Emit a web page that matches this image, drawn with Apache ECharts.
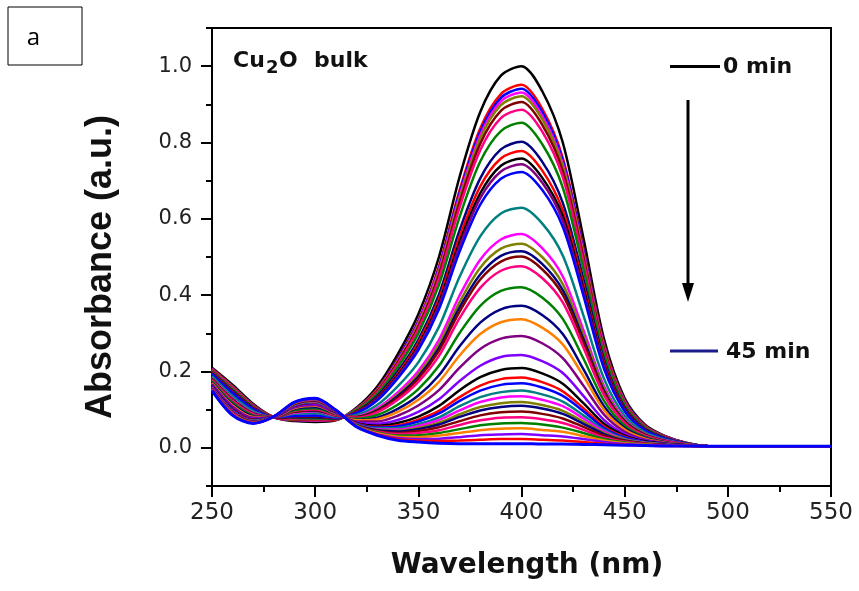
<!DOCTYPE html>
<html>
<head>
<meta charset="utf-8">
<script src="https://cdn.jsdelivr.net/npm/echarts@6/dist/echarts.min.js"></script>
<style>
  html, body { margin: 0; padding: 0; background: #fff; }
  #chart { width: 859px; height: 591px; }
</style>
</head>
<body>
<div id="chart"></div>
<script>
// Wavelength grid (nm)
const wavelengths = [250, 260, 270, 280, 290, 300, 310, 320, 330, 340, 350, 360, 370, 380, 390, 400, 410, 420, 430, 440, 450, 460, 470, 480, 490, 550];

// Absorbance spectra, 0 min (top) to 45 min (bottom)
const absorbance = [
    [.210,.165,.115,.080,.070,.068,.072,.105,.160,.245,.350,.500,.710,.880,.975,1.000,.935,.800,.550,.285,.130,.060,.030,.013,.005,.004],
    [.207,.161,.112,.080,.072,.071,.073,.102,.154,.234,.333,.476,.675,.837,.927,.951,.889,.760,.523,.271,.124,.057,.029,.013,.005,.004],
    [.206,.160,.112,.080,.073,.072,.074,.102,.152,.232,.330,.471,.668,.828,.917,.941,.880,.753,.518,.268,.123,.057,.029,.013,.005,.004],
    [.206,.159,.111,.080,.074,.072,.074,.102,.151,.229,.327,.466,.661,.819,.908,.931,.870,.745,.512,.266,.121,.056,.028,.012,.005,.004],
    [.205,.159,.111,.080,.074,.073,.074,.101,.150,.227,.323,.461,.654,.811,.898,.921,.861,.737,.507,.263,.120,.056,.028,.012,.005,.004],
    [.204,.157,.110,.080,.075,.074,.075,.100,.148,.224,.318,.454,.644,.797,.883,.906,.847,.725,.499,.259,.118,.055,.028,.012,.005,.004],
    [.203,.156,.109,.080,.076,.075,.075,.099,.145,.219,.311,.444,.630,.780,.864,.886,.829,.709,.488,.253,.116,.054,.027,.012,.005,.004],
    [.201,.153,.107,.080,.078,.077,.076,.098,.141,.211,.300,.427,.605,.750,.830,.852,.796,.682,.469,.244,.112,.052,.026,.012,.005,.004],
    [.198,.149,.105,.080,.080,.080,.077,.095,.135,.200,.283,.402,.570,.706,.782,.802,.750,.642,.442,.230,.105,.049,.025,.011,.005,.004],
    [.197,.147,.104,.080,.081,.082,.078,.094,.131,.194,.275,.390,.553,.685,.758,.778,.727,.622,.428,.223,.102,.048,.024,.011,.005,.004],
    [.195,.145,.103,.080,.082,.083,.079,.093,.129,.190,.268,.380,.539,.667,.739,.758,.708,.607,.418,.217,.100,.047,.024,.011,.005,.004],
    [.194,.144,.102,.080,.083,.084,.079,.092,.127,.187,.263,.373,.528,.654,.724,.743,.695,.595,.409,.213,.098,.046,.024,.011,.005,.004],
    [.193,.143,.101,.081,.084,.085,.080,.091,.124,.182,.256,.363,.514,.637,.705,.723,.676,.579,.399,.207,.096,.045,.023,.011,.005,.004],
    [.188,.135,.096,.081,.089,.091,.082,.086,.112,.161,.224,.317,.448,.554,.614,.629,.588,.504,.347,.181,.084,.040,.021,.010,.005,.004],
    [.183,.129,.092,.081,.092,.096,.084,.083,.104,.145,.201,.283,.399,.493,.546,.560,.523,.449,.309,.162,.075,.036,.019,.009,.005,.004],
    [.182,.127,.091,.081,.094,.097,.085,.082,.100,.139,.193,.271,.382,.472,.522,.535,.500,.429,.296,.155,.072,.035,.018,.009,.005,.004],
    [.181,.126,.090,.081,.095,.098,.085,.081,.098,.135,.186,.261,.368,.454,.503,.515,.482,.413,.285,.149,.070,.034,.018,.009,.005,.004],
    [.180,.125,.089,.081,.095,.099,.086,.080,.096,.131,.181,.254,.357,.441,.488,.501,.468,.401,.277,.145,.068,.033,.017,.009,.005,.004],
    [.178,.123,.088,.081,.097,.101,.086,.079,.093,.126,.173,.241,.340,.419,.464,.476,.445,.381,.263,.138,.065,.031,.017,.009,.005,.004],
    [.175,.118,.085,.081,.099,.104,.088,.076,.086,.113,.154,.215,.301,.372,.411,.421,.394,.338,.234,.123,.058,.028,.015,.008,.004,.004],
    [.172,.114,.083,.081,.102,.107,.089,.073,.079,.102,.137,.190,.266,.328,.363,.372,.348,.298,.206,.109,.052,.026,.014,.008,.004,.004],
    [.170,.111,.081,.081,.104,.110,.090,.072,.075,.094,.126,.173,.242,.298,.329,.337,.315,.271,.188,.099,.048,.024,.013,.008,.004,.004],
    [.167,.108,.079,.081,.106,.112,.091,.069,.069,.084,.111,.151,.210,.259,.286,.293,.274,.235,.163,.087,.042,.021,.012,.007,.004,.004],
    [.164,.104,.076,.082,.108,.115,.093,.067,.063,.073,.094,.127,.175,.215,.238,.243,.227,.196,.136,.073,.036,.019,.011,.007,.004,.004],
    [.162,.101,.074,.082,.110,.118,.094,.065,.058,.065,.082,.110,.151,.185,.204,.209,.195,.168,.117,.063,.032,.017,.010,.007,.004,.004],
    [.161,.099,.073,.082,.111,.119,.094,.064,.055,.059,.074,.097,.133,.163,.180,.184,.172,.148,.104,.056,.029,.015,.009,.006,.004,.004],
    [.160,.098,.072,.082,.112,.120,.095,.063,.053,.056,.069,.090,.123,.150,.165,.169,.158,.136,.096,.052,.027,.015,.009,.006,.004,.004],
    [.158,.096,.071,.082,.113,.121,.095,.062,.051,.052,.062,.080,.109,.133,.146,.150,.140,.121,.085,.047,.024,.014,.009,.006,.004,.004],
    [.158,.095,.070,.082,.114,.122,.096,.061,.049,.048,.057,.073,.098,.120,.132,.135,.126,.109,.077,.043,.022,.013,.008,.006,.004,.004],
    [.157,.094,.070,.082,.115,.123,.096,.061,.047,.045,.052,.066,.088,.107,.117,.120,.112,.097,.069,.039,.021,.012,.008,.006,.004,.004],
    [.156,.093,.069,.082,.115,.124,.096,.060,.046,.043,.049,.061,.081,.098,.107,.110,.103,.089,.063,.036,.019,.011,.008,.006,.004,.004],
    [.155,.092,.068,.082,.116,.125,.097,.059,.044,.039,.044,.054,.070,.085,.093,.095,.089,.077,.055,.032,.018,.011,.007,.006,.004,.004],
    [.154,.091,.068,.082,.117,.126,.097,.059,.042,.036,.039,.046,.060,.072,.079,.080,.075,.065,.047,.027,.016,.010,.007,.006,.004,.004],
    [.153,.089,.067,.082,.117,.127,.098,.058,.040,.032,.033,.039,.049,.059,.064,.065,.061,.053,.039,.023,.014,.009,.006,.005,.004,.004],
    [.152,.088,.066,.082,.118,.128,.098,.057,.038,.029,.028,.032,.039,.046,.050,.051,.047,.042,.031,.019,.012,.008,.006,.005,.004,.004],
    [.152,.087,.065,.082,.119,.128,.098,.056,.036,.026,.023,.024,.028,.033,.035,.036,.033,.030,.023,.015,.010,.007,.006,.005,.004,.004],
    [.151,.086,.065,.082,.119,.129,.099,.056,.035,.023,.019,.018,.019,.021,.023,.023,.021,.019,.015,.011,.008,.006,.005,.005,.004,.004],
    [.150,.085,.064,.082,.120,.130,.099,.055,.033,.020,.015,.012,.011,.011,.011,.011,.010,.010,.009,.008,.007,.006,.005,.005,.004,.004]
];

// Line colours, Origin-like cycle
const curveColors = [
    '#000000', '#ff0000', '#0000ff', '#ff00ff', '#808000', '#800000', '#ff0080', '#008000',
    '#000080', '#ff0000', '#000000', '#800080', '#0000ff', '#008080', '#ff00ff', '#808000',
    '#000080', '#800000', '#ff0080', '#008000', '#000080', '#ff8000', '#800080', '#8000ff',
    '#000000', '#ff0000', '#0000ff', '#008080', '#ff00ff', '#808000', '#000080', '#800000',
    '#ff0080', '#008000', '#ff8000', '#8000ff', '#ff0000', '#0000ff'
];

const yTickLabels = ['0.0', '0.2', '0.4', '0.6', '0.8', '1.0'];

const chart = echarts.init(document.getElementById('chart'), null, { renderer: 'canvas' });

const axisBlack = { color: '#000', width: 2 };

const series = absorbance.map((row, i) => ({
    type: 'line',
    xAxisIndex: 0,
    yAxisIndex: 0,
    data: wavelengths.map((w, j) => [w, row[j]]),
    showSymbol: false,
    smooth: 0.3,
    silent: true,
    lineStyle: {
        color: curveColors[i],
        width: i === absorbance.length - 1 ? 3 : 2.5
    }
}));

const option = {
    animation: false,
    backgroundColor: '#ffffff',
    grid: [
        { left: 212, right: 28, top: 28, bottom: 105, show: true, borderColor: '#000', borderWidth: 2 },
        { left: 212, right: 28, top: 66.2, bottom: 143.2 }
    ],
    xAxis: [
        {
            type: 'value', gridIndex: 0, min: 250, max: 550, interval: 50,
            axisLine: { onZero: false, lineStyle: axisBlack },
            axisTick: { length: 11, lineStyle: axisBlack },
            minorTick: { show: true, splitNumber: 2, length: 6, lineStyle: axisBlack },
            axisLabel: { fontFamily: 'DejaVu Sans', fontSize: 23, color: '#222', margin: 16 },
            splitLine: { show: false }
        },
        { type: 'value', gridIndex: 1, min: 250, max: 550, show: false }
    ],
    yAxis: [
        {
            type: 'value', gridIndex: 0, min: -0.1, max: 1.1, interval: 0.1,
            axisLine: { show: true, onZero: false, lineStyle: axisBlack },
            axisTick: { show: true, length: 6, lineStyle: axisBlack },
            axisLabel: { show: false },
            splitLine: { show: false }
        },
        {
            type: 'value', gridIndex: 1, min: 0, max: 1, interval: 0.2,
            axisLine: { show: false },
            axisTick: { show: true, length: 11, lineStyle: axisBlack },
            axisLabel: {
                fontFamily: 'DejaVu Sans', fontSize: 21, color: '#222', margin: 20,
                formatter: v => yTickLabels[Math.round(v * 5)]
            },
            splitLine: { show: false }
        }
    ],
    graphic: [
        // panel label
        { type: 'rect', shape: { x: 8, y: 7, width: 74, height: 58 }, style: { fill: 'none', stroke: '#000', lineWidth: 1 } },
        { type: 'text', x: 33.5, y: 38, style: { text: 'a', font: '24px "Open Sans"', fill: '#000', textAlign: 'center', textVerticalAlign: 'middle' } },
        // sample label
        { type: 'text', x: 233, y: 61, style: { text: 'Cu', font: 'bold 22px "DejaVu Sans"', fill: '#111', textVerticalAlign: 'middle' } },
        { type: 'text', x: 266, y: 68, style: { text: '2', font: 'bold 18px "DejaVu Sans"', fill: '#111', textVerticalAlign: 'middle' } },
        { type: 'text', x: 279, y: 61, style: { text: 'O', font: 'bold 22px "DejaVu Sans"', fill: '#111', textVerticalAlign: 'middle' } },
        { type: 'text', x: 314, y: 61, style: { text: 'bulk', font: 'bold 22px "DejaVu Sans"', fill: '#111', textVerticalAlign: 'middle' } },
        // time legend and arrow
        { type: 'line', shape: { x1: 670, y1: 66.5, x2: 720, y2: 66.5 }, style: { stroke: '#000', lineWidth: 3 } },
        { type: 'text', x: 723, y: 67, style: { text: '0 min', font: 'bold 22px "DejaVu Sans"', fill: '#111', textVerticalAlign: 'middle' } },
        { type: 'line', shape: { x1: 688, y1: 100, x2: 688, y2: 288 }, style: { stroke: '#000', lineWidth: 3 } },
        { type: 'polygon', shape: { points: [[682, 283], [694, 283], [688, 302]] }, style: { fill: '#000' } },
        { type: 'line', shape: { x1: 670, y1: 351, x2: 718, y2: 351 }, style: { stroke: '#1c1c8c', lineWidth: 3 } },
        { type: 'text', x: 726, y: 352, style: { text: '45 min', font: 'bold 22px "DejaVu Sans"', fill: '#111', textVerticalAlign: 'middle' } },
        // axis titles
        { type: 'text', x: 527, y: 566, style: { text: 'Wavelength (nm)', font: 'bold 28px "DejaVu Sans"', fill: '#111', textAlign: 'center', textVerticalAlign: 'middle' } },
        { type: 'text', x: 101.5, y: 267, rotation: Math.PI / 2, style: { text: 'Absorbance (a.u.)', font: 'bold 36px "Liberation Sans"', fill: '#111', textAlign: 'center', textVerticalAlign: 'middle' } }
    ],
    series: series
};

chart.setOption(option);
</script>
</body>
</html>
